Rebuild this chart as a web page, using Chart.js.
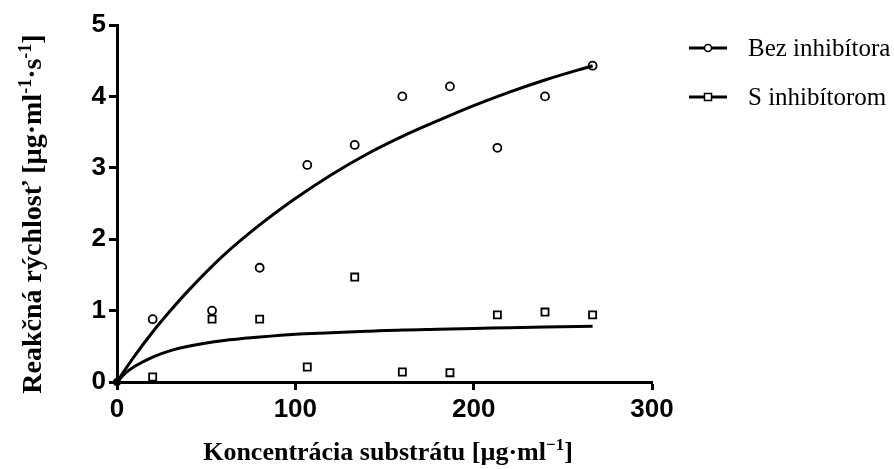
<!DOCTYPE html>
<html>
<head>
<meta charset="utf-8">
<script src="https://cdn.jsdelivr.net/npm/chart.js@4.4.1/dist/chart.umd.min.js"></script>
<style>
  html, body { margin: 0; padding: 0; background: #fff; }
  #wrap { width: 894px; height: 469px; position: relative; }
</style>
</head>
<body>
<div id="wrap"><canvas id="chart"></canvas></div>
<script>
// measured points
const substrate = [20, 53.3, 80, 106.7, 133.3, 160, 186.7, 213.3, 240, 266.7];
const withoutInhibitor = [0.88, 1.0, 1.6, 3.04, 3.32, 4.0, 4.14, 3.28, 4.0, 4.43];
const withInhibitor = [0.07, 0.88, 0.88, 0.21, 1.47, 0.14, 0.13, 0.94, 0.98, 0.94];

// fitted curves
const curveX = [0, 5, 10, 20, 30, 40, 60, 80, 100, 120, 140, 160, 180, 200, 220, 240, 266.7];
const curveWithout = [0, 0.19, 0.37, 0.70, 1.00, 1.28, 1.78, 2.20, 2.57, 2.90, 3.19, 3.44, 3.66, 3.87, 4.06, 4.23, 4.43];
const curveWith = [0, 0.13, 0.22, 0.35, 0.44, 0.50, 0.58, 0.63, 0.67, 0.69, 0.71, 0.73, 0.74, 0.75, 0.76, 0.77, 0.78];

const xTicks = [0, 100, 200, 300];
const yTicks = [0, 1, 2, 3, 4, 5];
const legendLabels = ['Bez inhibítora', 'S inhibítorom'];
const legendStyles = ['circle', 'rect'];

const toXY = (xs, ys) => xs.map((x, i) => ({ x: x, y: ys[i] }));

// text pieces with superscripts
function richWidth(ctx, parts, font, supFont) {
  let w = 0;
  parts.forEach(p => {
    ctx.font = p.sup ? supFont : font;
    w += ctx.measureText(p.t).width;
  });
  return w;
}
function drawRich(ctx, parts, x, y, font, supFont, supRise) {
  let cx = x;
  parts.forEach(p => {
    ctx.font = p.sup ? supFont : font;
    ctx.fillText(p.t, cx, p.sup ? y - supRise : y);
    cx += ctx.measureText(p.t).width;
  });
}

const xTitle = [{ t: 'Koncentrácia substrátu [µg·ml' }, { t: '−1', sup: true }, { t: ']' }];
const yTitle = [{ t: 'Reakčná rýchlosť [µg·ml' }, { t: '-1', sup: true }, { t: '·s' }, { t: '-1', sup: true }, { t: ']' }];

const extras = {
  id: 'extras',
  afterDraw(chart) {
    const ctx = chart.ctx;
    ctx.save();
    ctx.fillStyle = '#000';
    ctx.textBaseline = 'alphabetic';
    ctx.textAlign = 'left';
    // x title
    let f = 'bold 26px "Liberation Serif", "Times New Roman", serif';
    let sf = 'bold 17px "Liberation Serif", "Times New Roman", serif';
    let w = richWidth(ctx, xTitle, f, sf);
    drawRich(ctx, xTitle, 388 - w / 2, 460, f, sf, 10);
    // y title
    f = 'bold 28px "Liberation Serif", "Times New Roman", serif';
    sf = 'bold 18px "Liberation Serif", "Times New Roman", serif';
    ctx.save();
    ctx.translate(41, 214);
    ctx.rotate(-Math.PI / 2);
    w = richWidth(ctx, yTitle, f, sf);
    drawRich(ctx, yTitle, -w / 2, 0, f, sf, 10);
    ctx.restore();

    // legend
    const ys = [48, 97];
    legendLabels.forEach((lab, i) => {
      const y = ys[i];
      ctx.strokeStyle = '#000';
      ctx.lineWidth = 3;
      ctx.beginPath();
      ctx.moveTo(689, y);
      ctx.lineTo(727, y);
      ctx.stroke();
      ctx.lineWidth = 1.5;
      ctx.fillStyle = '#fff';
      ctx.beginPath();
      if (legendStyles[i] === 'circle') {
        ctx.arc(708, y, 3.5, 0, Math.PI * 2);
      } else {
        ctx.rect(704.5, y - 3.5, 7, 7);
      }
      ctx.fill();
      ctx.stroke();
      ctx.fillStyle = '#000';
      ctx.font = '25px "Liberation Serif", "Times New Roman", serif';
      ctx.textBaseline = 'middle';
      ctx.fillText(lab, 748, y + 1);
      ctx.textBaseline = 'alphabetic';
    });

    // dot at origin
    const xs = chart.scales.x, yv = chart.scales.y;
    ctx.fillStyle = '#000';
    ctx.beginPath();
    ctx.arc(xs.getPixelForValue(0), yv.getPixelForValue(0), 4, 0, Math.PI * 2);
    ctx.fill();
    ctx.restore();
  }
};

const tickFont = { family: '"Liberation Sans", Arial, sans-serif', size: 26, weight: 'bold' };

new Chart(document.getElementById('chart'), {
  type: 'scatter',
  data: {
    datasets: [
      {
        label: 'fit1',
        data: toXY(curveX, curveWithout),
        showLine: true,
        borderColor: '#000',
        borderWidth: 3,
        pointRadius: 0,
        cubicInterpolationMode: 'monotone',
        fill: false
      },
      {
        label: 'fit2',
        data: toXY(curveX, curveWith),
        showLine: true,
        borderColor: '#000',
        borderWidth: 3,
        pointRadius: 0,
        cubicInterpolationMode: 'monotone',
        fill: false
      },
      {
        label: legendLabels[0],
        data: toXY(substrate, withoutInhibitor),
        pointStyle: 'circle',
        pointRadius: 4,
        borderColor: '#000',
        borderWidth: 1.8,
        backgroundColor: '#fff'
      },
      {
        label: legendLabels[1],
        data: toXY(substrate, withInhibitor),
        pointStyle: 'rect',
        pointRadius: 5,
        borderColor: '#000',
        borderWidth: 1.8,
        backgroundColor: '#fff'
      }
    ]
  },
  options: {
    responsive: true,
    maintainAspectRatio: false,
    animation: false,
    layout: { padding: { left: 0, right: 242, top: 25, bottom: 0 } },
    plugins: {
      legend: { display: false },
      tooltip: { enabled: false }
    },
    scales: {
      x: {
        type: 'linear',
        min: 0,
        max: 300,
        afterBuildTicks: s => { s.ticks = xTicks.map(v => ({ value: v })); },
        afterFit: s => { s.height = 469 - 382; },
        border: { display: true, color: '#000', width: 3 },
        grid: { drawOnChartArea: false, drawTicks: true, tickLength: 8, tickWidth: 3, tickColor: '#000' },
        ticks: { color: '#000', font: tickFont, padding: 4, maxRotation: 0 }
      },
      y: {
        type: 'linear',
        min: 0,
        max: 5,
        afterBuildTicks: s => { s.ticks = yTicks.map(v => ({ value: v })); },
        afterFit: s => { s.width = 117; },
        border: { display: true, color: '#000', width: 3 },
        grid: { drawOnChartArea: false, drawTicks: true, tickLength: 8, tickWidth: 3, tickColor: '#000' },
        ticks: { color: '#000', font: tickFont, padding: 3 }
      }
    }
  },
  plugins: [extras]
});
</script>
</body>
</html>
